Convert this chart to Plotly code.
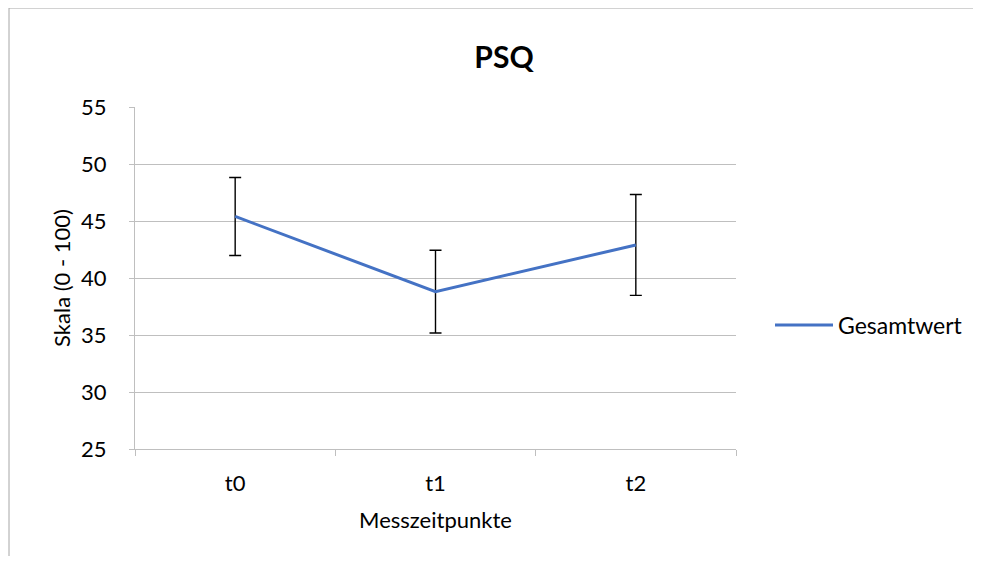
import plotly.graph_objects as go

categories = ["t0", "t1", "t2"]
gesamtwert = [45.4, 38.8, 42.9]
error_sd = [3.42, 3.63, 4.42]
y_ticks = [25, 30, 35, 40, 45, 50, 55]

FONT = "Lato, 'Open Sans', sans-serif"

# page offset (body margin) compensation; keep page free of scrollbars
OFF = 8
W, H = 981 - 2 * OFF, 564 - 2 * OFF
# plot area in page pixels
PL, PR, PT, PB = 135, 736, 107, 449
L, R, T, B = PL - OFF, W - (PR - OFF), PT - OFF, H - (PB - OFF)
pw, ph = W - L - R, H - T - B


def px_x(p):
    return (p - OFF - L) / pw


def px_y(p):
    return (H - B - (p - OFF)) / ph


fig = go.Figure()
fig.add_trace(go.Scatter(
    x=categories, y=gesamtwert, mode="lines", name="Gesamtwert",
    line=dict(color="#4472C4", width=3),
    error_y=dict(type="data", array=error_sd, visible=True,
                 color="#000000", thickness=1.4, width=6),
))

border = dict(color="#a6a6a6", width=1)

fig.update_layout(
    width=W, height=H,
    margin=dict(l=L, r=R, t=T, b=B, autoexpand=False),
    paper_bgcolor="white", plot_bgcolor="white",
    font=dict(family=FONT, size=22, color="#000000"),
    title=dict(text="<b>PSQ</b>", xref="paper", x=px_x(504), xanchor="center",
               yref="container", y=1 - (57 - OFF) / H, yanchor="middle",
               font=dict(size=30, family=FONT, color="#000000")),
    showlegend=True,
    legend=dict(x=px_x(770), y=px_y(325), xanchor="left", yanchor="middle",
                font=dict(size=23, family=FONT), bgcolor="rgba(0,0,0,0)",
                itemwidth=58),
    xaxis=dict(type="category", range=[-0.5, 2.5], tickson="boundaries",
               ticks="outside", ticklen=6, tickcolor="#bfbfbf",
               showline=True, linecolor="#bfbfbf", linewidth=1,
               showgrid=False, tickfont=dict(size=22), ticklabelstandoff=15,
               title=dict(text="Messzeitpunkte", font=dict(size=22), standoff=17)),
    yaxis=dict(range=[25, 55], tickvals=y_ticks, ticks="outside", ticklen=5,
               tickcolor="#bfbfbf", showline=True, linecolor="#bfbfbf",
               linewidth=1, gridcolor="#bfbfbf", gridwidth=1,
               tickfont=dict(size=22), zeroline=False, ticklabelstandoff=18,
               title=dict(text="Skala (0 - 100)", font=dict(size=22), standoff=4)),
    shapes=[
        dict(type="line", xref="paper", yref="paper",
             x0=px_x(9), x1=px_x(990), y0=px_y(8), y1=px_y(8), line=border),
        dict(type="line", xref="paper", yref="paper",
             x0=px_x(9), x1=px_x(9), y0=px_y(8), y1=px_y(600), line=border),
    ],
)

fig.write_html("out.html")
